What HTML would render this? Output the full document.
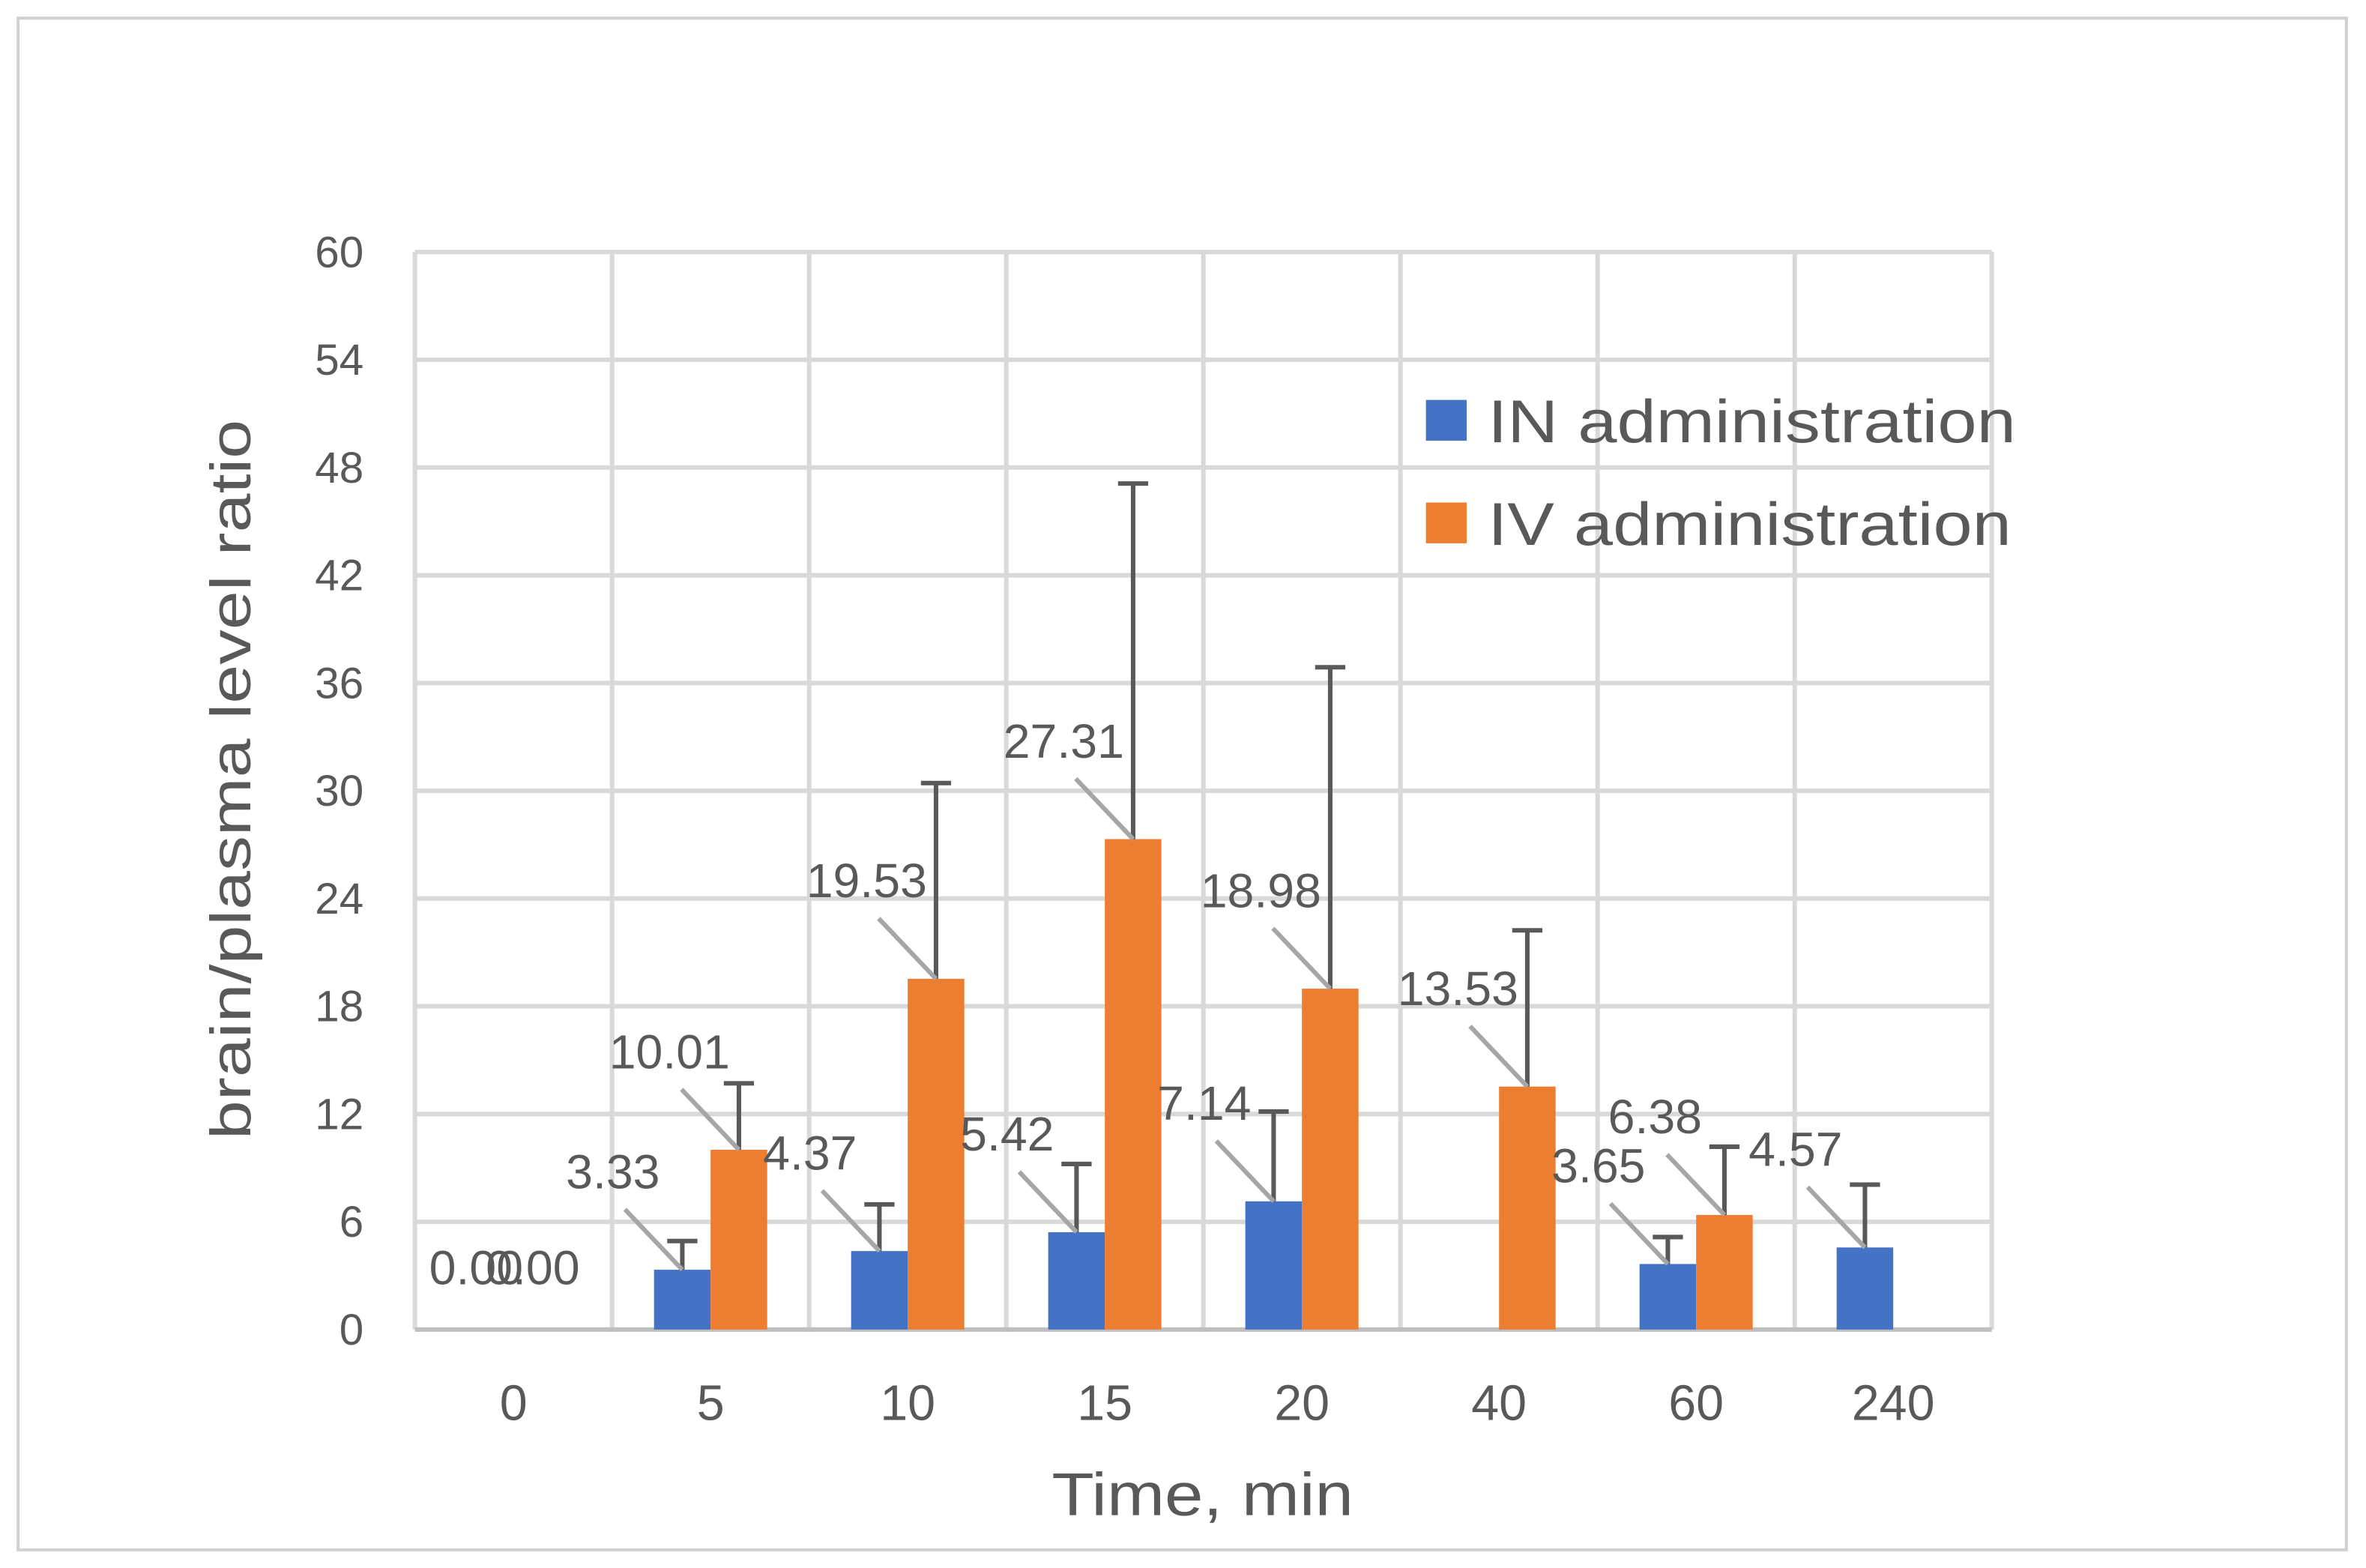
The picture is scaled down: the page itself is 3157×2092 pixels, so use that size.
<!DOCTYPE html>
<html><head><meta charset="utf-8"><style>
html,body{margin:0;padding:0;background:#fff;width:3157px;height:2092px;overflow:hidden}
svg{display:block}
text{font-family:"Liberation Sans",sans-serif;fill:#595959}
</style></head><body>
<svg id="chart" width="3157" height="2092" viewBox="0 0 1568 1039" xmlns="http://www.w3.org/2000/svg">
<rect x="12" y="12" width="1543" height="1015" fill="#fff" stroke="#d0d0d0" stroke-width="2"/>
<g id="grid"></g><g id="bars"></g><g id="labels"></g>
<text x="697" y="1004" font-size="40" textLength="200" lengthAdjust="spacingAndGlyphs">Time, min</text>
<text transform="translate(166,755) rotate(-90)" font-size="38" textLength="477" lengthAdjust="spacingAndGlyphs">brain/plasma level ratio</text>
<rect x="945" y="265" width="27" height="27" fill="#4472C4"/>
<text x="986" y="293" font-size="40" textLength="350" lengthAdjust="spacingAndGlyphs">IN administration</text>
<rect x="945" y="333" width="27" height="27" fill="#ED7D31"/>
<text x="986" y="361" font-size="40" textLength="347" lengthAdjust="spacingAndGlyphs">IV administration</text>
</svg>
<script>
const categories=["0","5","10","15","20","40","60","240"];
const inValues=[0.00,3.33,4.37,5.42,7.14,null,3.65,4.57];
const ivValues=[0.00,10.01,19.53,27.31,18.98,13.53,6.38,null];
const inErrors=[0,1.6,2.6,3.8,5.0,0,1.5,3.5];
const ivErrors=[0,3.7,10.9,19.8,17.9,8.7,3.8,0];
const yTicks=[0,6,12,18,24,30,36,42,48,54,60];
const NS="http://www.w3.org/2000/svg";
const L=275,R=1320,Y0=881,Y1=167,YMAX=60;
const cw=(R-L)/categories.length, bw=37.5;
const y=v=>Y0-(v/YMAX)*(Y0-Y1);
const cx=i=>L+cw*(i+0.5);
function mk(tag,attrs,parent,txt){const e=document.createElementNS(NS,tag);for(const k in attrs)e.setAttribute(k,attrs[k]);if(txt!==undefined)e.textContent=txt;parent.appendChild(e);return e;}
const grid=document.getElementById('grid'),bars=document.getElementById('bars'),labs=document.getElementById('labels');
yTicks.forEach(t=>{
 if(t>0){const g=mk('line',{x1:L,x2:R,y1:y(t),y2:y(t),stroke:'#d9d9d9','stroke-width':3},grid);
 
 }
 const tx=mk('text',{x:241,y:y(t)+10,'font-size':29,'text-anchor':'end'},grid,String(t));
 
 
});
for(let i=0;i<=categories.length;i++){
 const g=mk('line',{x1:L+cw*i,x2:L+cw*i,y1:Y1,y2:Y0,stroke:'#d9d9d9','stroke-width':3},grid);
 
 
}
const ax=mk('line',{x1:L,x2:R,y1:Y0,y2:Y0,stroke:'#bfbfbf','stroke-width':3},grid);


categories.forEach((c,i)=>{
 const t=mk('text',{x:cx(i),y:941,'font-size':33,'text-anchor':'middle'},grid,c);
 
 
});
function series(vals,errs,off,color,name){
 vals.forEach((v,i)=>{
  if(v===null)return;
  const x=cx(i)+off, top=y(v);
  const b=mk('rect',{x:x,y:top,width:bw,height:Y0-top,fill:color},bars);
  
  
  const mid=x+bw/2;
  if(errs[i]>0){
   const et=y(v+errs[i]);
   const e=mk('path',{d:`M${mid},${top}V${et}M${mid-10},${et}H${mid+10}`,stroke:'#595959','stroke-width':3,fill:'none'},bars);
   
   
  }
  if(v>0){
   const ln=mk('line',{x1:mid,y1:top,x2:mid-38,y2:top-40,stroke:'#a6a6a6','stroke-width':3},labs);
   
   
   const t=mk('text',{x:mid-46,y:top-54,'font-size':32,'text-anchor':'middle'},labs,v.toFixed(2));
   
   
  } else {
   const t=mk('text',{x:mid-6,y:851,'font-size':32,'text-anchor':'middle'},labs,v.toFixed(2));
   
   
  }
 });
}
series(inValues,inErrors,-bw,'#4472C4','in');
series(ivValues,ivErrors,0,'#ED7D31','iv');
</script>
</body></html>
